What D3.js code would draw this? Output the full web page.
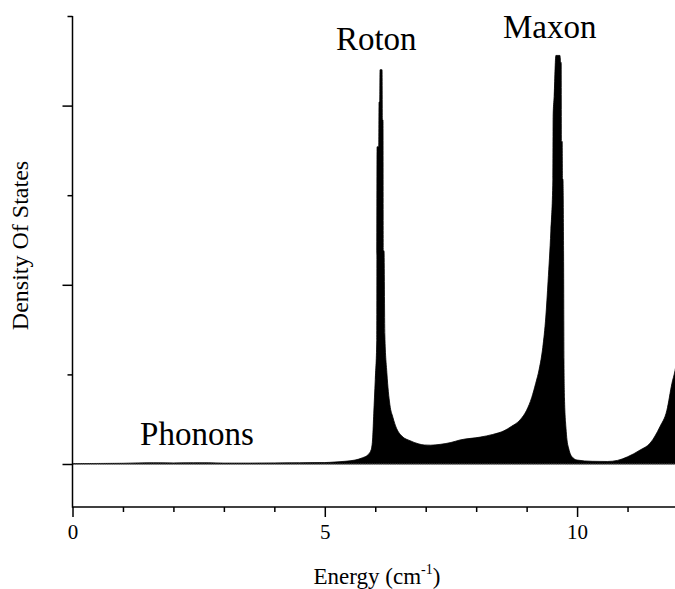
<!DOCTYPE html>
<html>
<head>
<meta charset="utf-8">
<script src="https://cdn.jsdelivr.net/npm/d3@7"></script>
<style>
  html, body { margin: 0; padding: 0; background: #fff; }
  svg { display: block; }
</style>
</head>
<body>
<svg id="chart" width="675" height="589"></svg>
<script>
// Helium-4 excitation density of states versus energy (cm^-1)
const energy = [
  0, 0.5, 1.0, 1.3, 1.6, 2.0, 2.4, 2.7, 3.0, 3.5, 4.0, 4.5, 5.0, 5.2, 5.4, 5.6,
  5.75, 5.85, 5.92, 5.95, 5.97, 6.0, 6.03, 6.036, 6.07, 6.075, 6.09, 6.095,
  6.135, 6.14, 6.154, 6.16, 6.174, 6.19, 6.23, 6.29, 6.35, 6.42, 6.53, 6.69,
  6.85, 6.97, 7.1, 7.3, 7.5, 7.68, 8.08, 8.33, 8.55, 8.7, 8.87, 9.0, 9.1, 9.18,
  9.25, 9.32, 9.38, 9.425, 9.48, 9.52, 9.525, 9.545, 9.58, 9.66, 9.675, 9.685,
  9.69, 9.705, 9.71, 9.72, 9.735, 9.74, 9.75, 9.78, 9.8, 9.83, 9.86, 9.93, 10.0,
  10.3, 10.6, 10.8, 11.0, 11.25, 11.45, 11.64, 11.78, 11.88, 11.94, 12.0
];
const density = [
  0.002, 0.003, 0.004, 0.006, 0.007, 0.006, 0.007, 0.007, 0.005, 0.005, 0.006, 0.007, 0.008, 0.011, 0.015, 0.022,
  0.035, 0.05, 0.08, 0.15, 0.28, 0.47, 0.69, 1.77, 1.77, 2.02, 2.02, 2.2,
  2.2, 1.92, 1.92, 1.19, 1.19, 0.72, 0.51, 0.33, 0.26, 0.2, 0.155, 0.13,
  0.113, 0.106, 0.105, 0.11, 0.12, 0.134, 0.15, 0.165, 0.185, 0.21, 0.246, 0.3, 0.37, 0.45,
  0.53, 0.65, 0.82, 1.02, 1.3, 1.59, 1.94, 2.05, 2.28, 2.28, 2.24, 2.24,
  1.8, 1.8, 1.59, 1.59, 1.0, 0.58, 0.37, 0.2, 0.134, 0.09, 0.06, 0.032, 0.022,
  0.015, 0.014, 0.02, 0.04, 0.078, 0.117, 0.207, 0.3, 0.45, 0.52, 0.62
];
const xMajorTicks = [0, 5, 10];
const xMinorTicks = [1, 2, 3, 4, 6, 7, 8, 9, 11];
const yMajorTicks = [0, 1, 2];
const yMinorTicks = [0.5, 1.5, 2.5];
const annotations = [
  { text: "Phonons", e: 1.34, d: 0.105 },
  { text: "Roton", e: 5.22, d: 2.31 },
  { text: "Maxon", e: 8.53, d: 2.38 }
];

const serif = '"Liberation Serif", "Times New Roman", serif';
const svg = d3.select("#chart");
const plotLeft = 72.5, plotRight = 678, plotTop = 16, plotBottom = 507;

const x = d3.scaleLinear().domain([0, 12]).range([plotLeft, plotRight]);
const y = d3.scaleLinear().domain([-0.24, 2.5]).range([plotBottom, plotTop]);

const data = energy.map((e, i) => ({ e, d: density[i] }));

svg.append("defs").append("clipPath").attr("id", "plot-clip")
  .append("rect").attr("x", plotLeft).attr("y", plotTop)
  .attr("width", plotRight - plotLeft).attr("height", plotBottom - plotTop);

const plot = svg.append("g").attr("clip-path", "url(#plot-clip)");

// filled spectrum down to zero
plot.append("path")
  .datum(data)
  .attr("fill", "#000")
  .attr("stroke", "#000")
  .attr("stroke-width", 0.8)
  .attr("d", d3.area().curve(d3.curveMonotoneX).x(p => x(p.e)).y0(y(0)).y1(p => y(p.d)));

// zero reference line
plot.append("line")
  .attr("x1", plotLeft).attr("x2", plotRight)
  .attr("y1", y(0)).attr("y2", y(0))
  .attr("stroke", "#555").attr("stroke-width", 1).attr("stroke-dasharray", "1.5,0.8");

// axes
const xAxisMajor = d3.axisBottom(x).tickValues(xMajorTicks).tickSize(10).tickPadding(7).tickFormat(d3.format("d"));
const xAxisMinor = d3.axisBottom(x).tickValues(xMinorTicks).tickSize(5).tickFormat("");
const yAxisMajor = d3.axisLeft(y).tickValues(yMajorTicks).tickSize(10).tickFormat("");
const yAxisMinor = d3.axisLeft(y).tickValues(yMinorTicks).tickSize(5).tickFormat("");

function styleAxis(g) {
  g.select(".domain").remove();
  g.selectAll(".tick line").attr("stroke", "#000").attr("stroke-width", 1.5);
  g.selectAll(".tick text")
    .style("font-family", serif).style("font-size", "21px").attr("fill", "#000");
}

svg.append("g").attr("transform", `translate(0,${plotBottom})`).call(xAxisMajor).call(styleAxis);
svg.append("g").attr("transform", `translate(0,${plotBottom})`).call(xAxisMinor).call(styleAxis);
svg.append("g").attr("transform", `translate(${plotLeft},0)`).call(yAxisMajor).call(styleAxis);
svg.append("g").attr("transform", `translate(${plotLeft},0)`).call(yAxisMinor).call(styleAxis);

// axis lines
svg.append("line").attr("x1", plotLeft).attr("x2", plotLeft).attr("y1", plotTop).attr("y2", plotBottom + 0.75)
  .attr("stroke", "#000").attr("stroke-width", 1.5);
svg.append("line").attr("x1", plotLeft).attr("x2", 675).attr("y1", plotBottom).attr("y2", plotBottom)
  .attr("stroke", "#000").attr("stroke-width", 1.5);

// axis titles
svg.append("text")
  .attr("transform", `translate(28,${(plotTop + plotBottom) / 2 - 16}) rotate(-90)`)
  .attr("text-anchor", "middle")
  .style("font-family", serif)
  .style("font-size", "24px")
  .attr("fill", "#000")
  .text("Density Of States");

const xt = svg.append("text")
  .attr("x", 377).attr("y", 584)
  .attr("text-anchor", "middle")
  .style("font-family", serif)
  .style("font-size", "23px")
  .attr("fill", "#000");
xt.append("tspan").text("Energy (cm");
xt.append("tspan").attr("dy", -10).style("font-size", "14px").text("-1");
xt.append("tspan").attr("dy", 10).text(")");

// peak labels
svg.selectAll("text.note")
  .data(annotations)
  .join("text")
  .attr("class", "note")
  .attr("x", a => x(a.e))
  .attr("y", a => y(a.d))
  .attr("text-anchor", "start")
  .style("font-family", serif)
  .style("font-size", "33px")
  .attr("fill", "#000")
  .text(a => a.text);
</script>
</body>
</html>
